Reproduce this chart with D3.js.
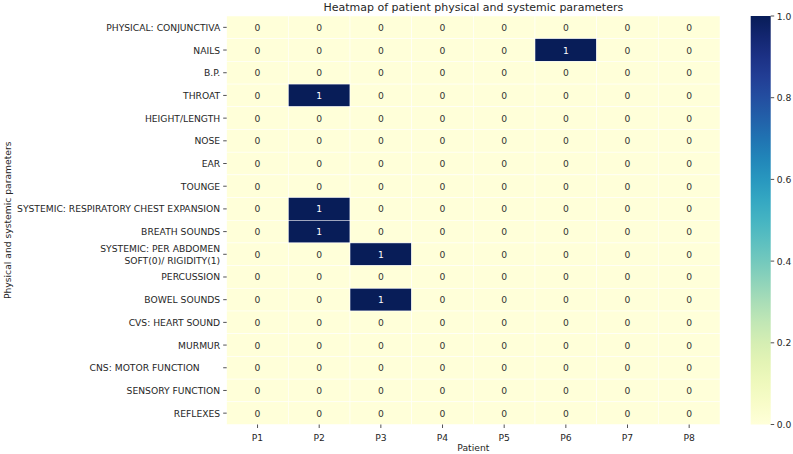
<!DOCTYPE html>
<html><head><meta charset="utf-8">
<script src="https://cdn.jsdelivr.net/npm/d3@7"></script>
<style>
html,body{margin:0;padding:0;background:#fff;}
svg text{font-family:"DejaVu Sans",sans-serif;}
</style></head>
<body>
<svg id="c" width="793" height="454"></svg>
<script>
const parameters = [
  "PHYSICAL: CONJUNCTIVA","NAILS","B.P.","THROAT","HEIGHT/LENGTH","NOSE","EAR","TOUNGE",
  "SYSTEMIC: RESPIRATORY CHEST EXPANSION","BREATH SOUNDS",
  "SYSTEMIC: PER ABDOMEN\nSOFT(0)/ RIGIDITY(1)","PERCUSSION","BOWEL SOUNDS",
  "CVS: HEART SOUND","MURMUR","CNS: MOTOR FUNCTION       ","SENSORY FUNCTION","REFLEXES"
];
const patients = ["P1","P2","P3","P4","P5","P6","P7","P8"];
const values = [
  [0,0,0,0,0,0,0,0],
  [0,0,0,0,0,1,0,0],
  [0,0,0,0,0,0,0,0],
  [0,1,0,0,0,0,0,0],
  [0,0,0,0,0,0,0,0],
  [0,0,0,0,0,0,0,0],
  [0,0,0,0,0,0,0,0],
  [0,0,0,0,0,0,0,0],
  [0,1,0,0,0,0,0,0],
  [0,1,0,0,0,0,0,0],
  [0,0,1,0,0,0,0,0],
  [0,0,0,0,0,0,0,0],
  [0,0,1,0,0,0,0,0],
  [0,0,0,0,0,0,0,0],
  [0,0,0,0,0,0,0,0],
  [0,0,0,0,0,0,0,0],
  [0,0,0,0,0,0,0,0],
  [0,0,0,0,0,0,0,0]
];
const colorbarTicks = [0,0.2,0.4,0.6,0.8,1.0];
const titleText = "Heatmap of patient physical and systemic parameters";
const xLabel = "Patient";
const yLabel = "Physical and systemic parameters";

const svg = d3.select("#c");
const L = 226.7, R = 720, T = 16, B = 424.5;
const FS = 9.2;
const x = d3.scaleBand().domain(patients).range([L, R]);
const y = d3.scaleBand().domain(parameters).range([T, B]);
const color = d3.scaleSequential(d3.interpolateYlGnBu).domain([0,1]);
const textCol = "#262626";

const cells = [];
values.forEach((row,i)=>row.forEach((v,j)=>cells.push({r:parameters[i],c:patients[j],v})));

svg.append("g").selectAll("rect").data(cells).join("rect")
  .attr("x",d=>x(d.c)).attr("y",d=>y(d.r))
  .attr("width",x.bandwidth()).attr("height",y.bandwidth())
  .attr("fill",d=>color(d.v)).attr("stroke","#fff").attr("stroke-width",0.5);

svg.append("g").selectAll("text").data(cells).join("text")
  .attr("x",d=>x(d.c)+x.bandwidth()/2).attr("y",d=>y(d.r)+y.bandwidth()/2)
  .attr("text-anchor","middle").attr("dominant-baseline","central")
  .attr("font-size",FS).attr("fill",d=>d.v>0.5?"#fff":"#333")
  .text(d=>d.v);

// y axis
const yax = svg.append("g");
parameters.forEach(p=>{
  const cy = y(p)+y.bandwidth()/2;
  yax.append("line").attr("x1",L-3.5).attr("x2",L).attr("y1",cy).attr("y2",cy)
    .attr("stroke",textCol).attr("stroke-width",0.8);
  const lines = p.split("\n");
  const t = yax.append("text").attr("text-anchor","end").attr("font-size",FS)
    .attr("fill",textCol).style("white-space","pre");
  const lh = 11.5;
  lines.forEach((ln,k)=>{
    t.append("tspan").attr("x",L-6.5)
      .attr("y",cy + (k-(lines.length-1)/2)*lh)
      .attr("dominant-baseline","central").text(ln);
  });
});

// x axis
const xax = svg.append("g");
patients.forEach(p=>{
  const cx = x(p)+x.bandwidth()/2;
  xax.append("line").attr("x1",cx).attr("x2",cx).attr("y1",B).attr("y2",B+3.5)
    .attr("stroke",textCol).attr("stroke-width",0.8);
  xax.append("text").attr("x",cx).attr("y",B+16).attr("text-anchor","middle")
    .attr("font-size",FS).attr("fill",textCol).text(p);
});

svg.append("text").attr("x",(L+R)/2).attr("y",451).attr("text-anchor","middle")
  .attr("font-size",FS).attr("fill",textCol).text(xLabel);
svg.append("text").attr("transform",`translate(11,${(T+B)/2}) rotate(-90)`)
  .attr("text-anchor","middle").attr("font-size",FS).attr("fill",textCol).text(yLabel);
svg.append("text").attr("x",(L+R)/2).attr("y",11).attr("text-anchor","middle")
  .attr("font-size",11).attr("fill",textCol).text(titleText);

// colorbar
const cbL = 750.7, cbW = 20;
const defs = svg.append("defs");
const grad = defs.append("linearGradient").attr("id","cbg").attr("x1",0).attr("y1",1).attr("x2",0).attr("y2",0);
d3.range(0,1.0001,0.05).forEach(t=>grad.append("stop").attr("offset",t).attr("stop-color",color(t)));
svg.append("rect").attr("x",cbL).attr("y",T).attr("width",cbW).attr("height",B-T).attr("fill","url(#cbg)");
const cy = d3.scaleLinear().domain([0,1]).range([B,T]);
colorbarTicks.forEach(t=>{
  svg.append("line").attr("x1",cbL+cbW).attr("x2",cbL+cbW+3.5).attr("y1",cy(t)).attr("y2",cy(t))
    .attr("stroke",textCol).attr("stroke-width",0.8);
  svg.append("text").attr("x",cbL+cbW+6).attr("y",cy(t)).attr("dominant-baseline","central")
    .attr("font-size",FS).attr("fill",textCol).text(t.toFixed(1));
});
</script>
</body></html>
